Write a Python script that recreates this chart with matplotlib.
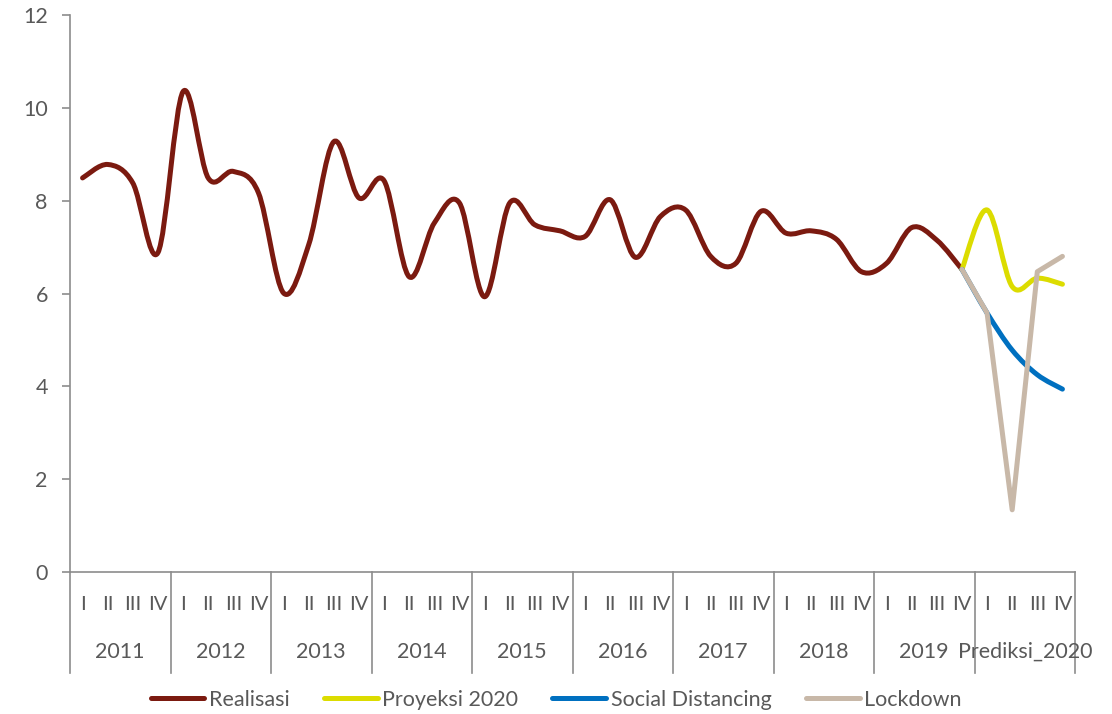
import numpy as np
import matplotlib
matplotlib.use("Agg")
import matplotlib.pyplot as plt
from matplotlib.path import Path
from matplotlib.patches import PathPatch
from matplotlib.lines import Line2D
from matplotlib.transforms import blended_transform_factory

plt.rcParams['font.family'] = ['Lato', 'DejaVu Sans']

years = ['2011', '2012', '2013', '2014', '2015', '2016', '2017', '2018', '2019',
         'Prediksi_2020']
quarters = ['I', 'II', 'III', 'IV']

# Realisasi 2011 Q1 .. 2019 Q4
realisasi = [8.49, 8.78, 8.38, 6.88,
             10.35, 8.49, 8.63, 8.17,
             6.01, 7.05, 9.27, 8.06,
             8.43, 6.36, 7.52, 7.95,
             5.93, 7.95, 7.48, 7.35,
             7.23, 8.02, 6.78, 7.66,
             7.80, 6.80, 6.65, 7.77,
             7.30, 7.35, 7.17, 6.47,
             6.65, 7.42, 7.15, 6.52]
# scenarios: start at 2019 Q4, then 2020 Q1..Q4
proyeksi = [6.52, 7.80, 6.15, 6.33, 6.20]
social = [6.52, 5.58, 4.78, 4.25, 3.94]
lockdown = [6.52, 5.58, 1.34, 6.47, 6.80]

C_REAL = '#7b1a10'
C_PROY = '#dcdc00'
C_SOC = '#0070c0'
C_LOCK = '#c8b8a8'
GRAY = '#8c8c8c'
TXT = '#595959'
LW = 3.6


def smooth_path(xs, ys):
    # excel-like smoothed line: cubic bezier, catmull-rom control points
    pts = np.column_stack([xs, ys])
    n = len(pts)
    verts = [pts[0]]
    codes = [Path.MOVETO]
    for i in range(n - 1):
        p0 = pts[max(i - 1, 0)]
        p1 = pts[i]
        p2 = pts[i + 1]
        p3 = pts[min(i + 2, n - 1)]
        c1 = p1 + (p2 - p0) / 6.0
        c2 = p2 - (p3 - p1) / 6.0
        verts += [c1, c2, p2]
        codes += [Path.CURVE4] * 3
    return Path(verts, codes)


fig = plt.figure(figsize=(11.12, 7.14), dpi=100)
ax = fig.add_axes([70 / 1112, 1 - 572 / 714, 1005 / 1112, 557 / 714])

n_cat = len(years) * 4
x_real = np.arange(len(realisasi)) + 0.5
x_pred = np.arange(len(realisasi) - 1, n_cat) + 0.5

ax.add_patch(PathPatch(smooth_path(x_real, realisasi), fill=False, ec=C_REAL,
                       lw=LW, capstyle='round', joinstyle='round', zorder=3))
ax.add_patch(PathPatch(smooth_path(x_pred, proyeksi), fill=False, ec=C_PROY,
                       lw=LW, capstyle='round', joinstyle='round', zorder=4))
ax.add_patch(PathPatch(smooth_path(x_pred, social), fill=False, ec=C_SOC,
                       lw=LW, capstyle='round', joinstyle='round', zorder=5))
ax.plot(x_pred, lockdown, color=C_LOCK, lw=LW, solid_capstyle='round',
        solid_joinstyle='round', zorder=6)

ax.set_xlim(0, n_cat)
ax.set_ylim(0, 12)
ax.set_yticks(np.arange(0, 13, 2))
ax.set_xticks([])
for s in ['top', 'right']:
    ax.spines[s].set_visible(False)
for s in ['left', 'bottom']:
    ax.spines[s].set_color(GRAY)
    ax.spines[s].set_linewidth(1.2)
ax.tick_params(axis='y', direction='out', length=6, width=1.2, color=GRAY,
               labelsize=15.5, labelcolor=TXT, pad=10)

# two-level category axis
tr = blended_transform_factory(ax.transData, ax.transAxes)
y_sep = -(673 - 572) / 557
for k in range(len(years) + 1):
    ax.plot([4 * k, 4 * k], [0, y_sep], color=GRAY, lw=1.2, transform=tr,
            clip_on=False)
for k, yr in enumerate(years):
    for q, ql in enumerate(quarters):
        ax.text(4 * k + q + 0.5, -(604 - 572) / 557, ql, transform=tr,
                ha='center', va='center', fontsize=14.5, color=TXT)
    ax.text(4 * k + 2, -(652 - 572) / 557, yr, transform=tr,
            ha='center', va='center', fontsize=15.5, color=TXT)

handles = [Line2D([0], [0], color=C_REAL, lw=LW, solid_capstyle='round'),
           Line2D([0], [0], color=C_PROY, lw=LW, solid_capstyle='round'),
           Line2D([0], [0], color=C_SOC, lw=LW, solid_capstyle='round'),
           Line2D([0], [0], color=C_LOCK, lw=LW, solid_capstyle='round')]
labels = ['Realisasi', 'Proyeksi 2020', 'Social Distancing', 'Lockdown']
fig.legend(handles, labels, loc='center', bbox_to_anchor=(556 / 1112, 1 - 700 / 714),
           ncol=4, frameon=False, fontsize=15.5, handlelength=2.5, handletextpad=0.2,
           columnspacing=1.6, labelcolor=TXT)

fig.savefig('out.png', dpi=100)
